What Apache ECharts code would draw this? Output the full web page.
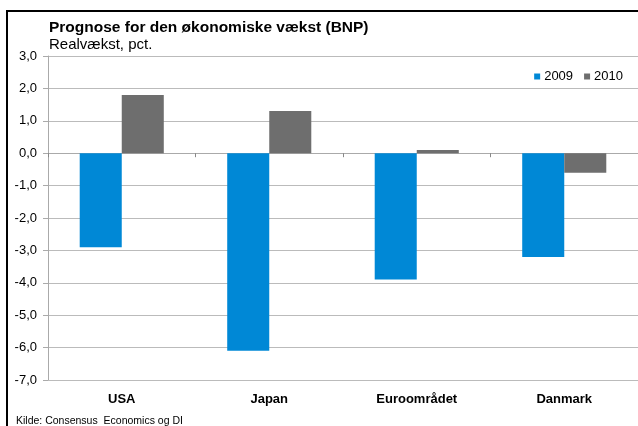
<!DOCTYPE html>
<html>
<head>
<meta charset="utf-8">
<script src="https://cdn.jsdelivr.net/npm/echarts@6/dist/echarts.min.js"></script>
<style>
  html, body { margin: 0; padding: 0; background: #fff; }
  #main { width: 638px; height: 426px; }
</style>
</head>
<body>
<div id="main"></div>
<script>
// data
const categories = ['USA', 'Japan', 'Euroområdet', 'Danmark']
const seriesNames = ['2009', '2010']
const values2009 = [-2.9, -6.1, -3.9, -3.2]
const values2010 = [1.8, 1.3, 0.1, -0.6]

const font = 'Liberation Sans, Arial, sans-serif'
const chart = echarts.init(document.getElementById('main'))

const option = {
  backgroundColor: '#fff',
  animation: false,
  textStyle: { fontFamily: font },
  title: {
    text: 'Prognose for den økonomiske vækst (BNP)',
    subtext: 'Realvækst, pct.',
    left: 44,
    top: 15,
    itemGap: 1,
    textStyle: { fontFamily: font, fontSize: 15.5, fontWeight: 'bold', color: '#000' },
    subtextStyle: { fontFamily: font, fontSize: 15, color: '#000' }
  },
  legend: {
    data: seriesNames,
    right: 10,
    top: 65,
    icon: 'rect',
    itemWidth: 6,
    itemHeight: 6,
    itemGap: 11,
    textStyle: { fontFamily: font, fontSize: 13, color: '#000', padding: [0, 0, 0, -1] }
  },
  grid: { left: 48, right: 0, top: 56, bottom: 46, containLabel: false },
  xAxis: [
    {
      type: 'category',
      data: categories,
      position: 'bottom',
      axisLine: { onZero: false, lineStyle: { color: '#bbb' } },
      axisTick: { show: false },
      axisLabel: { fontFamily: font, fontSize: 13, fontWeight: 'bold', color: '#000', margin: 13 }
    },
    {
      // second axis only draws the zero line with its category ticks
      type: 'category',
      data: categories,
      position: 'top',
      axisLine: { onZero: true, lineStyle: { color: '#aaa' } },
      axisTick: { show: true, inside: true, length: 4, lineStyle: { color: '#888' } },
      axisLabel: { show: false }
    }
  ],
  yAxis: {
    type: 'value',
    min: -7,
    max: 3,
    interval: 1,
    axisLine: { show: true, lineStyle: { color: '#aaa' } },
    axisTick: { show: true, length: 5, lineStyle: { color: '#aaa' } },
    splitLine: { lineStyle: { color: '#bbb' } },
    axisLabel: {
      fontFamily: font,
      fontSize: 13,
      color: '#000',
      margin: 11,
      formatter: v => v.toFixed(1).replace('.', ',')
    }
  },
  series: [
    {
      name: seriesNames[0],
      type: 'bar',
      data: values2009,
      barGap: '0%',
      barCategoryGap: '43%',
      itemStyle: { color: '#0088d6' }
    },
    {
      name: seriesNames[1],
      type: 'bar',
      data: values2010,
      barGap: '0%',
      barCategoryGap: '43%',
      itemStyle: { color: '#6e6e6e' }
    }
  ],
  graphic: [
    { type: 'line', shape: { x1: 6, y1: 11, x2: 638, y2: 11 }, style: { stroke: '#000', lineWidth: 2 } },
    { type: 'line', shape: { x1: 7, y1: 10, x2: 7, y2: 426 }, style: { stroke: '#000', lineWidth: 2 } },
    {
      type: 'text',
      left: 16,
      top: 416,
      style: { text: 'Kilde: Consensus  Economics og DI', fontFamily: font, fontSize: 10.5, fill: '#000' }
    }
  ]
}

chart.setOption(option)
</script>
</body>
</html>
